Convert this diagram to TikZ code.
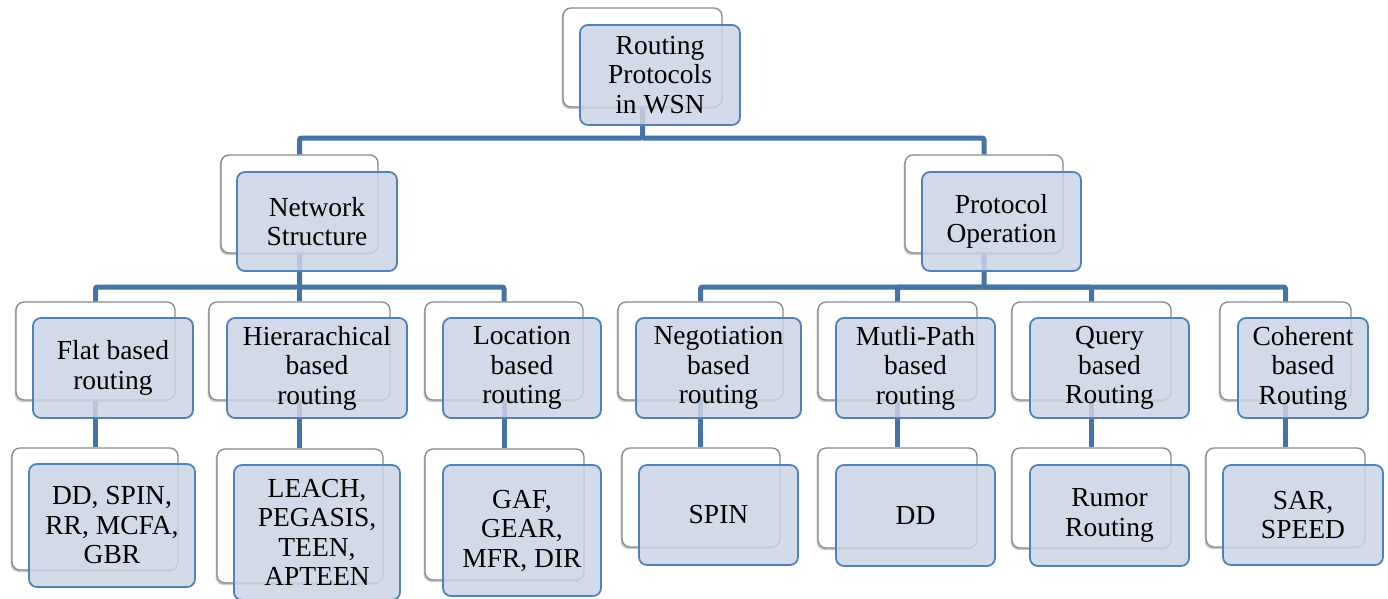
\documentclass[tikz,border=0pt]{standalone}
\usepackage{fontspec}
\setmainfont{LiberationSerif-Regular.ttf}
\usetikzlibrary{shadows}

\definecolor{conncol}{RGB}{69,114,167}
\definecolor{frontfill}{RGB}{203,211,228}
\definecolor{frontline}{RGB}{79,129,189}
\definecolor{backline}{RGB}{135,135,135}

\tikzset{
  backbox/.style={draw=backline, line width=1.3pt, fill=white, rounded corners=8pt,
    inner sep=0pt,
    drop shadow={shadow xshift=-1.5pt, shadow yshift=-2pt, opacity=0.3, fill=black!70}},
  frontbox/.style={draw=frontline, line width=1.8pt, fill=frontfill, fill opacity=0.85,
    text opacity=1, rounded corners=8pt, inner sep=0pt, align=center,
    font=\fontsize{27.5}{29.5}\selectfont},
  conn/.style={draw=conncol, line width=5pt, rounded corners=2pt},
}

% a box given by its two corners: style, name, x1, y1, x2, y2, text
\newcommand\cornerbox[7]{%
  \pgfmathsetmacro\bxc{(#3+#5)/2}%
  \pgfmathsetmacro\byc{(#4+#6)/2}%
  \pgfmathsetmacro\bxw{#5-#3}%
  \pgfmathsetmacro\byh{#6-#4}%
  \node[#1, minimum width=\bxw pt, minimum height=\byh pt] (#2) at (\bxc,\byc) {#7};}

\begin{document}
\begin{tikzpicture}[x=1pt, y=-1pt]
\useasboundingbox (0,0) rectangle (1388,598);

% back (shadowed white) boxes
\cornerbox{backbox}{rootB}{563}{8}{722}{107}{}
\cornerbox{backbox}{netB}{221}{155}{378}{253}{}
\cornerbox{backbox}{protoB}{905}{155}{1063}{253}{}
\cornerbox{backbox}{flatB}{16}{302}{175}{400}{}
\cornerbox{backbox}{hierB}{209}{302}{390}{400}{}
\cornerbox{backbox}{locB}{425}{302}{583}{400}{}
\cornerbox{backbox}{negB}{618}{302}{783}{400}{}
\cornerbox{backbox}{multiB}{818}{302}{977}{400}{}
\cornerbox{backbox}{queryB}{1012}{302}{1171}{400}{}
\cornerbox{backbox}{cohB}{1220}{302}{1351}{400}{}
\cornerbox{backbox}{flatLB}{12}{448}{178}{570}{}
\cornerbox{backbox}{hierLB}{217}{449}{383}{583}{}
\cornerbox{backbox}{locLB}{425}{449}{584}{580}{}
\cornerbox{backbox}{negLB}{622}{448}{780}{547}{}
\cornerbox{backbox}{multiLB}{818}{448}{977}{548}{}
\cornerbox{backbox}{queryLB}{1012}{448}{1171}{548}{}
\cornerbox{backbox}{cohLB}{1206}{448}{1365}{547}{}

% bus junctions
\coordinate (bus1) at (642.5,138);
\coordinate (bus2L) at (299.5,287);
\coordinate (bus2R) at (984,287);

% connectors
\draw[conn] (rootB.south) -- (bus1) -| (netB.north);
\draw[conn] (bus1) -| (protoB.north);
\draw[conn] (netB.south) -- (bus2L) -| (flatB.north);
\draw[conn] (bus2L) -| (locB.north);
\draw[conn] (bus2L) -- (hierB.north);
\draw[conn] (protoB.south) -- (bus2R) -| (negB.north);
\draw[conn] (bus2R) -| (cohB.north);
\draw[conn] (bus2R) -| (multiB.north);
\draw[conn] (bus2R) -| (queryB.north);
\foreach \n in {flat,hier,loc,neg,multi,query,coh}
  \draw[conn] (\n B.south) -- (\n B.south |- \n LB.north);

% front (blue) boxes with labels
\cornerbox{frontbox}{root}{580}{25}{740}{125}{Routing\\Protocols\\in WSN}
\cornerbox{frontbox}{net}{237}{172}{397}{271}{Network\\Structure}
\cornerbox{frontbox}{proto}{922}{172}{1081}{271}{Protocol\\Operation}
\cornerbox{frontbox}{flat}{33}{318}{193}{418}{Flat based\\routing}
\cornerbox{frontbox}{hier}{227}{318}{407}{418}{Hierarachical\\based\\routing}
\cornerbox{frontbox}{loc}{443}{318}{601}{418}{Location\\based\\routing}
\cornerbox{frontbox}{neg}{636}{318}{801}{418}{Negotiation\\based\\routing}
\cornerbox{frontbox}{multi}{836}{318}{995}{418}{Mutli-Path\\based\\routing}
\cornerbox{frontbox}{query}{1030}{318}{1189}{418}{Query\\based\\Routing}
\cornerbox{frontbox}{coh}{1238}{318}{1368}{418}{Coherent\\based\\Routing}
\cornerbox{frontbox}{flatL}{29}{464}{195}{587}{DD, SPIN,\\RR, MCFA,\\GBR}
\cornerbox{frontbox}{hierL}{234}{465}{400}{600}{LEACH,\\PEGASIS,\\TEEN,\\APTEEN}
\cornerbox{frontbox}{locL}{443}{465}{601}{596}{GAF,\\GEAR,\\MFR, DIR}
\cornerbox{frontbox}{negL}{639}{465}{798}{565}{SPIN}
\cornerbox{frontbox}{multiL}{836}{465}{995}{566}{DD}
\cornerbox{frontbox}{queryL}{1030}{465}{1189}{566}{Rumor\\Routing}
\cornerbox{frontbox}{cohL}{1223}{465}{1383}{565}{SAR,\\SPEED}
\end{tikzpicture}
\end{document}
